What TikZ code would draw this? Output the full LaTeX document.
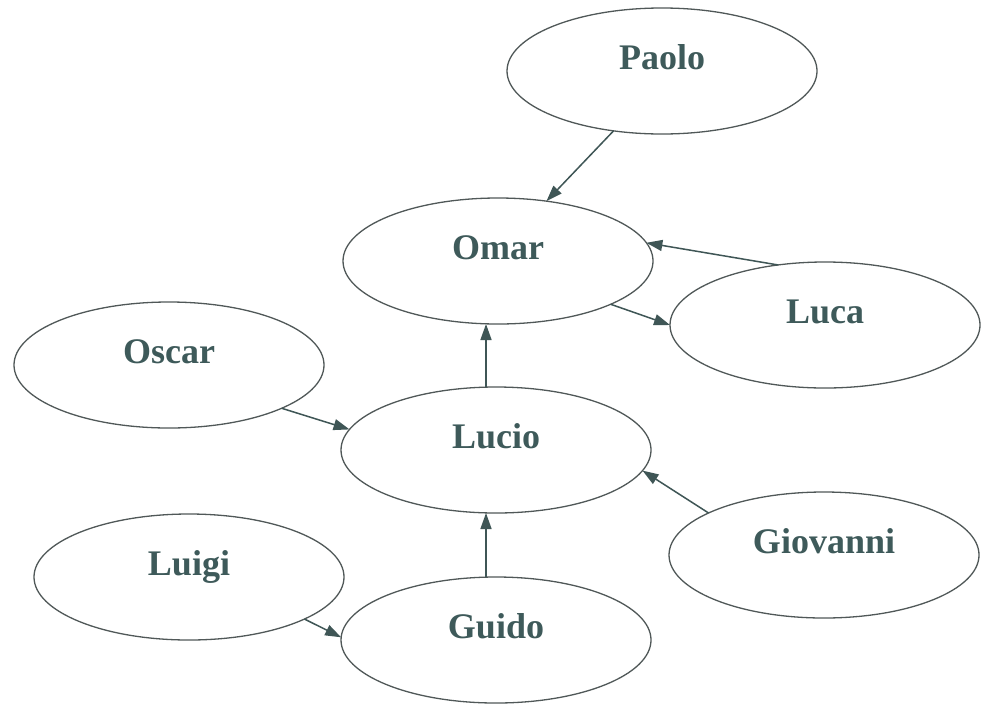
\documentclass[tikz,border=0pt]{standalone}
\usepackage{fontspec}
\setmainfont{Liberation Serif}
\usetikzlibrary{shapes.geometric,arrows.meta}
\definecolor{txtc}{HTML}{3E5A5A}
\definecolor{edgec}{HTML}{505858}
\definecolor{arrc}{HTML}{3F5656}
\tikzset{
  ent/.style={ellipse, draw=edgec, line width=0.65pt, minimum width=155pt, minimum height=63pt, inner sep=0pt, outer sep=0pt, fill=white},
  lbl/.style={anchor=base, inner sep=0pt, text=txtc, font=\fontsize{18pt}{20pt}\selectfont\bfseries},
  conn/.style={draw=arrc, line width=0.75pt, -{Triangle[length=8pt,width=5.5pt]}, fill=arrc}
}
\begin{document}
\begin{tikzpicture}[x=0.5pt,y=-0.5pt]
\useasboundingbox[fill=white] (0,0) rectangle (988,707);
\node[ent] (paolo) at (662,71) {};
\node[ent] (omar) at (498,261) {};
\node[ent] (luca) at (825,325) {};
\node[ent] (oscar) at (169,365) {};
\node[ent] (lucio) at (496,450) {};
\node[ent] (luigi) at (189,577) {};
\node[ent] (guido) at (496,640) {};
\node[ent] (giovanni) at (824,555) {};
\node[lbl] (paolot) at ([yshift=1pt]paolo.center) {Paolo};
\node[lbl] (omart) at ([yshift=1pt]omar.center) {Omar};
\node[lbl] (lucat) at ([yshift=1pt]luca.center) {Luca};
\node[lbl] (oscart) at ([yshift=1pt]oscar.center) {Oscar};
\node[lbl] (luciot) at ([yshift=1pt]lucio.center) {Lucio};
\node[lbl] (luigit) at ([yshift=1pt]luigi.center) {Luigi};
\node[lbl] (guidot) at ([yshift=1pt]guido.center) {Guido};
\node[lbl] (giovannit) at ([yshift=1pt]giovanni.center) {Giovanni};
\draw[conn] (paolo.231) -- (omar.51);
\draw[conn] (luca.128) -- (omar.7);
\draw[conn] (omar.339) -- (luca.180);
\draw[conn] ([xshift=-5pt]lucio.north) -- ([xshift=-5pt]lucio.north |- omar.south);
\draw[conn] (oscar.339) -- (lucio.172);
\draw[conn] (giovanni.160) -- (lucio.352);
\draw[conn] ([xshift=-5pt]guido.north) -- ([xshift=-5pt]guido.north |- lucio.south);
\draw[conn] (luigi.340) -- (guido.179);
\end{tikzpicture}
\end{document}
